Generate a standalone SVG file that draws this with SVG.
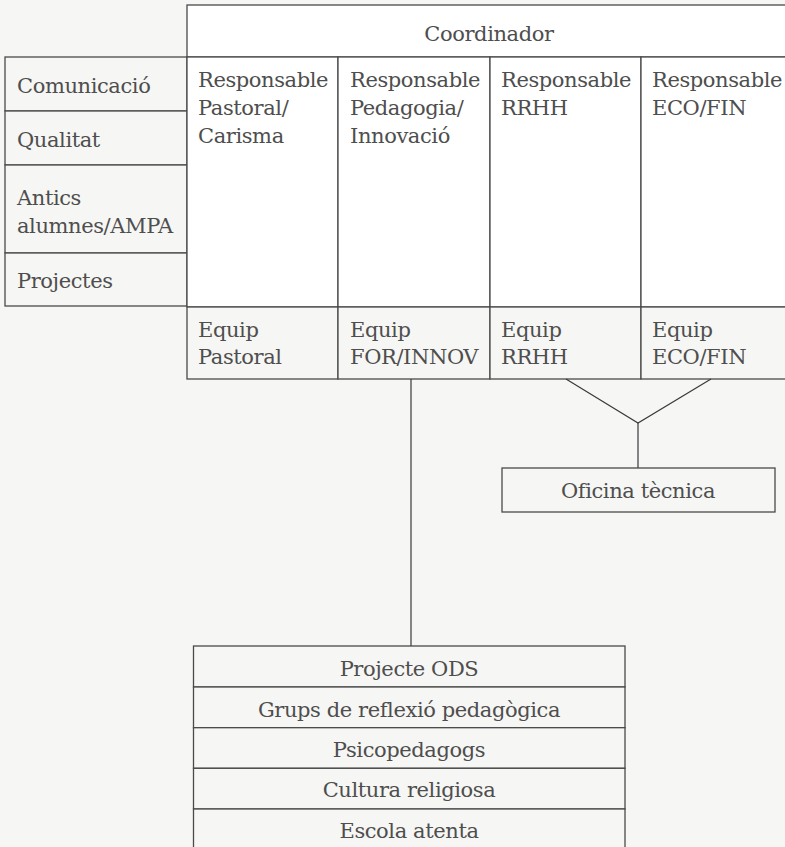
<svg xmlns="http://www.w3.org/2000/svg" width="785" height="847" viewBox="0 0 785 847">
<style>
.bx{stroke:#4a4a4a;stroke-width:1.3;fill:#f6f6f4}
.wb{stroke:#4a4a4a;stroke-width:1.3;fill:#ffffff}
.t{font-family:"DejaVu Serif","Liberation Serif",serif;font-size:21px;letter-spacing:-0.4px;fill:#4e4e4e}
.c{text-anchor:middle}
.ln{stroke:#3a3a3a;stroke-width:1.2;fill:none}
</style>
<rect width="785" height="847" fill="#f6f6f4"/>
<g id="coordinador">
<rect class="wb" x="187" y="5" width="600" height="52"/>
<text class="t c" x="489" y="41">Coordinador</text>
</g>
<g id="lateral">
<rect class="bx" x="5" y="57" width="182" height="54"/>
<text class="t" x="17" y="93">Comunicació</text>
<rect class="bx" x="5" y="111" width="182" height="54"/>
<text class="t" x="17" y="147">Qualitat</text>
<rect class="bx" x="5" y="165" width="182" height="88"/>
<text class="t" x="17" y="205">Antics</text>
<text class="t" x="17" y="233">alumnes/AMPA</text>
<rect class="bx" x="5" y="253" width="182" height="53"/>
<text class="t" x="17" y="288">Projectes</text>
</g>
<g id="resp-pastoral">
<rect class="wb" x="187" y="57" width="151" height="250"/>
<text class="t" x="198" y="87">Responsable</text>
<text class="t" x="198" y="115">Pastoral/</text>
<text class="t" x="198" y="143">Carisma</text>
</g>
<g id="resp-pedagogia">
<rect class="wb" x="338" y="57" width="152" height="250"/>
<text class="t" x="350" y="87">Responsable</text>
<text class="t" x="350" y="115">Pedagogia/</text>
<text class="t" x="350" y="143">Innovació</text>
</g>
<g id="resp-rrhh">
<rect class="wb" x="490" y="57" width="151" height="250"/>
<text class="t" x="501" y="87">Responsable</text>
<text class="t" x="501" y="115">RRHH</text>
</g>
<g id="resp-ecofin">
<rect class="wb" x="641" y="57" width="146" height="250"/>
<text class="t" x="652" y="87">Responsable</text>
<text class="t" x="652" y="115">ECO/FIN</text>
</g>
<g id="equip-pastoral">
<rect class="bx" x="187" y="307" width="151" height="72"/>
<text class="t" x="198" y="337">Equip</text>
<text class="t" x="198" y="364">Pastoral</text>
</g>
<g id="equip-forinnov">
<rect class="bx" x="338" y="307" width="152" height="72"/>
<text class="t" x="350" y="337">Equip</text>
<text class="t" x="350" y="364">FOR/INNOV</text>
</g>
<g id="equip-rrhh">
<rect class="bx" x="490" y="307" width="151" height="72"/>
<text class="t" x="501" y="337">Equip</text>
<text class="t" x="501" y="364">RRHH</text>
</g>
<g id="equip-ecofin">
<rect class="bx" x="641" y="307" width="146" height="72"/>
<text class="t" x="652" y="337">Equip</text>
<text class="t" x="652" y="364">ECO/FIN</text>
</g>
<g id="connectors">
<line class="ln" x1="411" y1="379" x2="411" y2="646"/>
<polyline class="ln" points="566,379 638,423 711,379"/>
<line class="ln" x1="638" y1="423" x2="638" y2="468"/>
</g>
<g id="oficina">
<rect class="bx" x="502" y="468" width="273" height="44"/>
<text class="t c" x="638" y="498">Oficina tècnica</text>
</g>
<g id="llista">
<rect class="bx" x="193.5" y="646" width="431.5" height="41"/>
<text class="t c" x="409" y="676">Projecte ODS</text>
<rect class="bx" x="193.5" y="687" width="431.5" height="40.7"/>
<text class="t c" x="409" y="717">Grups de reflexió pedagògica</text>
<rect class="bx" x="193.5" y="727.7" width="431.5" height="40.6"/>
<text class="t c" x="409" y="757">Psicopedagogs</text>
<rect class="bx" x="193.5" y="768.3" width="431.5" height="40.7"/>
<text class="t c" x="409" y="797">Cultura religiosa</text>
<rect class="bx" x="193.5" y="809" width="431.5" height="45"/>
<text class="t c" x="409" y="838">Escola atenta</text>
</g>
</svg>
